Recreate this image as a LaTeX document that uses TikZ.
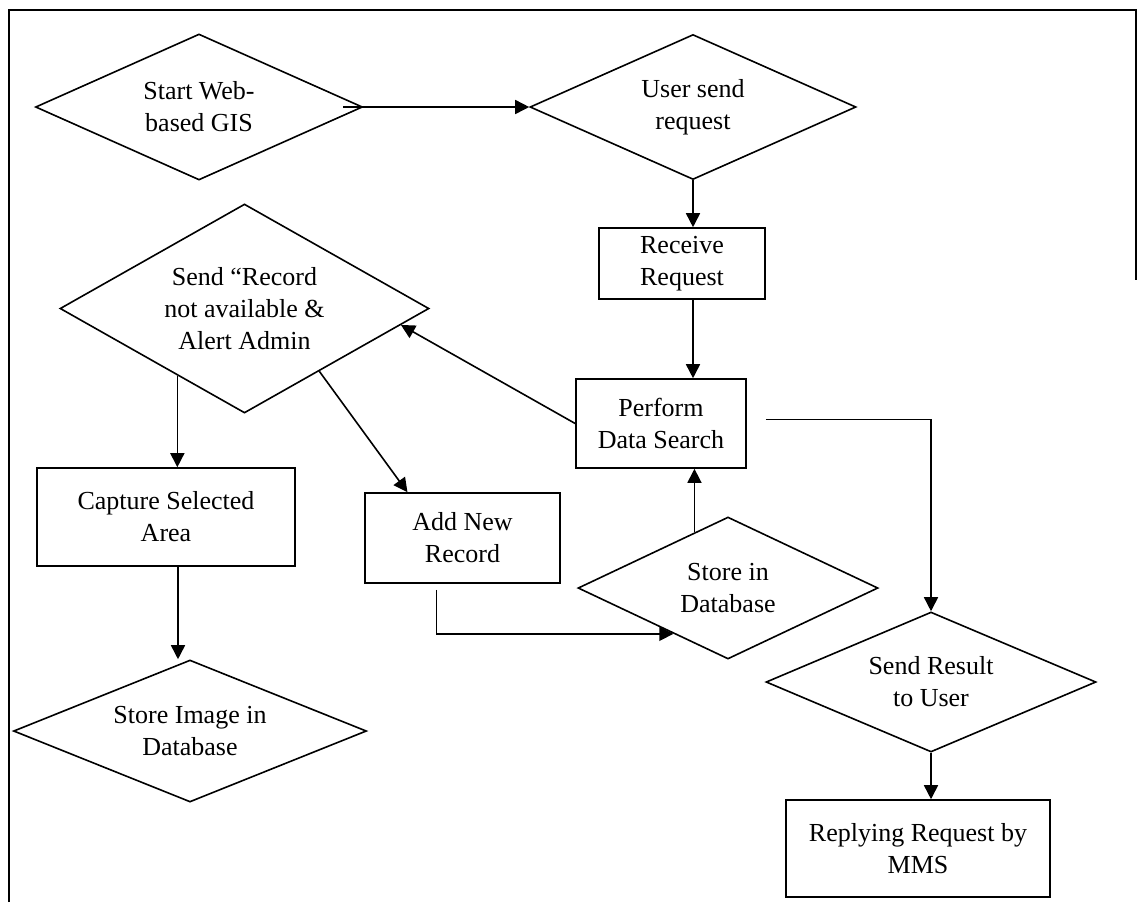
\documentclass[tikz,border=0pt]{standalone}
\usepackage{fontspec}
\setmainfont{Liberation Serif}
\usetikzlibrary{arrows.meta,calc,shapes.geometric}
\tikzset{
  chart/.style={
    x=0.5pt,
    y=-0.5pt,
    line width=0.8pt,
    font=\fontsize{13}{16}\selectfont
  },
  decision/.style={
    diamond,
    aspect=2.2,
    draw=black,
    inner sep=0pt,
    align=center
  },
  step-box/.style={
    rectangle,
    draw=black,
    inner sep=0pt,
    align=center
  },
  flow/.style={-{Triangle[length=7pt,width=7pt]}}
}
\newcommand{\pageframe}{%
  \useasboundingbox (0,0) rectangle (1138,902);
  \draw (9,902) -- (9,10) -- (1136,10) -- (1136,280);
}

\begin{document}
\begin{tikzpicture}[chart]
  \pageframe
  \node[decision, minimum width=163.5pt, minimum height=73pt] (start) at (199,107) {Start Web-\\based GIS};
  \node[decision, minimum width=163pt, minimum height=72.5pt] (user) at (693,107) {User send\\request};
  \node[step-box, minimum width=83pt, minimum height=35.5pt] (receive) at (682,263.5) {Receive\\Request};
  \node[step-box, minimum width=85pt, minimum height=44.5pt] (perform) at (661,423.5) {Perform\\Data Search};
  \node[decision, minimum width=184.5pt, minimum height=104.5pt] (sendrec) at (244.5,308.5) {Send “Record\\not available \&\\Alert Admin};
  \node[step-box, minimum width=129pt, minimum height=49pt] (capture) at (166,517) {Capture Selected\\Area};
  \node[decision, minimum width=176.5pt, minimum height=71pt] (storeimg) at (190,731) {Store Image in\\Database};
  \node[step-box, minimum width=97.5pt, minimum height=45pt] (addnew) at (462.5,538) {Add New\\Record};
  \node[decision, minimum width=150pt, minimum height=71pt] (storedb) at (728,588) {Store in\\Database};
  \node[decision, minimum width=165pt, minimum height=70pt] (sendres) at (931,682) {Send Result\\to User};
  \node[step-box, minimum width=132pt, minimum height=48.5pt] (replying) at (918,848.5) {Replying Request by\\MMS};

  \coordinate (capout) at ($(capture.south)+(12,0)$);
  \coordinate (addin) at ($(addnew.north west)!0.22!(addnew.north east)$);
  \coordinate (addout) at ($(addnew.south)+(-26,6)$);
  \coordinate (resout) at ($(perform.east)+(19,-4)$);

  \draw[flow] ($(start.east)+(-20,0)$) -- (user.west);
  \draw[flow] (user.south) -- (user.south |- receive.north);
  \draw[flow] (user.south |- receive.south) -- (user.south |- perform.north);
  \draw[flow] (perform.west) -- (sendrec.-6);
  \draw[flow] (sendrec.-135) -- (sendrec.-135 |- capture.north);
  \draw[flow] (sendrec.-40) -- (addin);
  \draw[flow] (capout) -- (capout |- storeimg.north);
  \draw[flow] (addout) |- (storedb.-140);
  \draw[flow] (storedb.121) -- (storedb.121 |- perform.south);
  \draw[flow] (resout) -| (sendres.north);
  \draw[flow] (sendres.south) -- (sendres.south |- replying.north);
\end{tikzpicture}
\end{document}
